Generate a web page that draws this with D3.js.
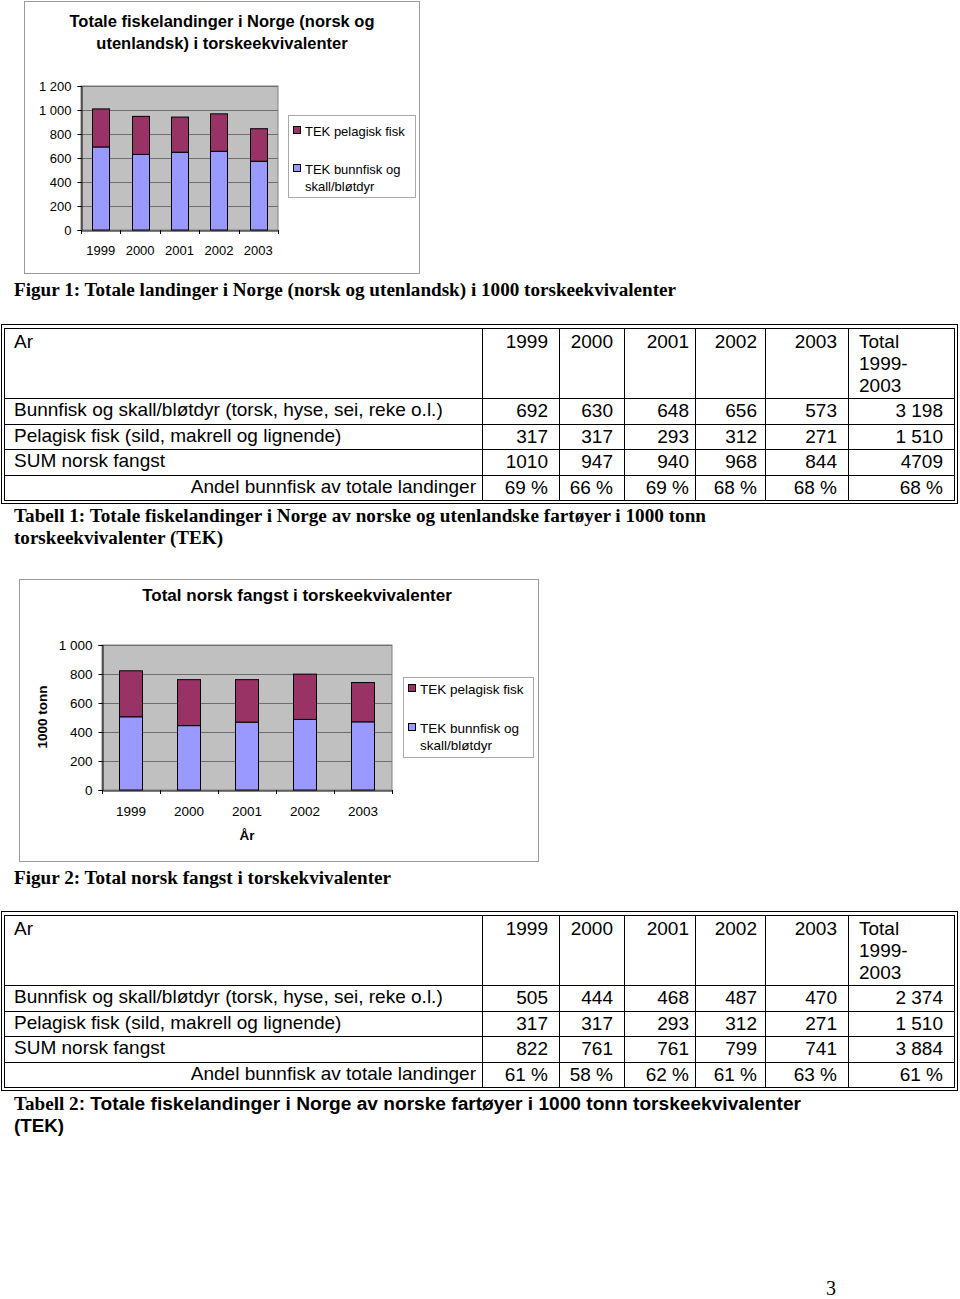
<!DOCTYPE html>
<html><head><meta charset="utf-8">
<script src="https://cdn.jsdelivr.net/npm/d3@7"></script>
<style>body{margin:0;background:#fff}svg{display:block}</style>
</head><body>
<svg id="page" width="960" height="1299"></svg>
<script>
// ---------- DATA ----------
const years = ["1999","2000","2001","2002","2003"];
const bunnfiskTotal = [692,630,648,656,573];
const pelagiskTotal = [317,317,293,312,271];
const bunnfiskNorsk = [505,444,468,487,470];
const pelagiskNorsk = [317,317,293,312,271];
const yTicks1 = [0,200,400,600,800,1000,1200];
const yTicks2 = [0,200,400,600,800,1000];
const seriesNames = ["TEK pelagisk fisk","TEK bunnfisk og skall/bløtdyr"];
const rowLabels = ["Bunnfisk og skall/bløtdyr (torsk, hyse, sei, reke o.l.)","Pelagisk fisk (sild, makrell og lignende)","SUM norsk fangst","Andel bunnfisk av totale landinger"];
const table1Rows = [
  ["692","630","648","656","573","3 198"],
  ["317","317","293","312","271","1 510"],
  ["1010","947","940","968","844","4709"],
  ["69 %","66 %","69 %","68 %","68 %","68 %"]
];
const table2Rows = [
  ["505","444","468","487","470","2 374"],
  ["317","317","293","312","271","1 510"],
  ["822","761","761","799","741","3 884"],
  ["61 %","58 %","62 %","61 %","63 %","61 %"]
];
const colors = {pel:"#993366", bunn:"#9999ff", plot:"#c0c0c0"};
const SANS = "'Liberation Sans', Arial, sans-serif";
const SERIF = "'Liberation Serif', 'Times New Roman', serif";
const fmt = d => d >= 1000 ? d3.format(",")(d).replace(",", " ") : String(d);

const svg = d3.select("#page");

// ---------- CHART ----------
function chart(cfg){
  const g = svg.append("g");
  g.append("rect").attr("x",cfg.box[0]+0.5).attr("y",cfg.box[1]+0.5)
    .attr("width",cfg.box[2]-cfg.box[0]).attr("height",cfg.box[3]-cfg.box[1])
    .attr("fill","#fff").attr("stroke","#9a9a9a");
  cfg.title.forEach((t,i)=>{
    g.append("text").attr("x",cfg.titleX).attr("y",cfg.titleY+i*22)
      .attr("text-anchor","middle").attr("font-family",SANS).attr("font-weight","bold")
      .attr("font-size",cfg.titleSize).text(t);
  });
  const [L,R,T,B] = cfg.plot;
  const fs = cfg.fs;
  const x = d3.scaleBand().domain(years).range([L,R]).paddingInner(cfg.pad).paddingOuter(cfg.pad/2);
  const y = d3.scaleLinear().domain([0,cfg.max]).range([B,T]);
  g.append("rect").attr("x",L).attr("y",T).attr("width",R-L).attr("height",B-T)
    .attr("fill",colors.plot).attr("stroke","#808080");
  g.append("g").selectAll("line").data(cfg.ticks.filter(d=>d>0)).join("line")
    .attr("x1",L).attr("x2",R).attr("y1",d=>Math.round(y(d))+0.5).attr("y2",d=>Math.round(y(d))+0.5)
    .attr("stroke","#6e6e6e");
  const data = years.map((yr,i)=>({yr, b:cfg.bunn[i], p:cfg.pel[i]}));
  g.append("g").selectAll("rect").data(data).join("rect")
    .attr("x",d=>Math.round(x(d.yr))+0.5).attr("width",Math.round(x.bandwidth()))
    .attr("y",d=>y(d.b)).attr("height",d=>y(0)-y(d.b))
    .attr("fill",colors.bunn).attr("stroke","#000");
  g.append("g").selectAll("rect").data(data).join("rect")
    .attr("x",d=>Math.round(x(d.yr))+0.5).attr("width",Math.round(x.bandwidth()))
    .attr("y",d=>y(d.b+d.p)).attr("height",d=>y(d.b)-y(d.b+d.p))
    .attr("fill",colors.pel).attr("stroke","#000");
  // y axis
  const ya = g.append("g").attr("transform",`translate(${L+0.5},0)`)
    .call(d3.axisLeft(y).tickValues(cfg.ticks).tickSize(4).tickPadding(cfg.tickPad).tickFormat(fmt));
  ya.select(".domain").attr("stroke","#000");
  ya.selectAll("text").attr("font-family",SANS).attr("font-size",fs).attr("fill","#000");
  // x axis
  const xa = g.append("g").attr("transform",`translate(0,${B+0.5})`)
    .call(d3.axisBottom(x).tickSize(0).tickPadding(cfg.xPad));
  xa.select(".domain").attr("stroke","#000");
  xa.selectAll("text").attr("font-family",SANS).attr("font-size",fs).attr("fill","#000");
  const step = x.step();
  g.append("g").selectAll("line").data(d3.range(years.length+1)).join("line")
    .attr("x1",i=>Math.round(L+i*step)+0.5).attr("x2",i=>Math.round(L+i*step)+0.5)
    .attr("y1",B).attr("y2",B+4).attr("stroke","#000");
  // legend
  const lg = cfg.legend;
  g.append("rect").attr("x",lg.box[0]+0.5).attr("y",lg.box[1]+0.5)
    .attr("width",lg.box[2]-lg.box[0]).attr("height",lg.box[3]-lg.box[1])
    .attr("fill","#fff").attr("stroke","#a8a8a8");
  const items = [{c:colors.pel, lines:[seriesNames[0]], y:lg.y[0]},
                 {c:colors.bunn, lines:["TEK bunnfisk og","skall/bløtdyr"], y:lg.y[1]}];
  items.forEach(it=>{
    g.append("rect").attr("x",lg.box[0]+5.5).attr("y",it.y-4.5).attr("width",7).attr("height",7)
      .attr("fill",it.c).attr("stroke","#000");
    it.lines.forEach((t,j)=>{
      g.append("text").attr("x",lg.box[0]+17).attr("y",it.y+j*17).attr("dy","0.35em")
        .attr("font-family",SANS).attr("font-size",fs).text(t);
    });
  });
  return g;
}

chart({box:[24,1,419,273], title:["Totale fiskelandinger i Norge (norsk og","utenlandsk) i  torskeekvivalenter"],
  titleX:222, titleY:27, titleSize:16.5, plot:[81,278,86,230], max:1200, ticks:yTicks1, fs:13,
  bunn:bunnfiskTotal, pel:pelagiskTotal, pad:0.57, tickPad:6, xPad:15,
  legend:{box:[288,115,415,197], y:[131,169]}});

const c2 = chart({box:[19,579,538,861], title:["Total norsk fangst i torskeekvivalenter"],
  titleX:297, titleY:601, titleSize:17, plot:[102,392,645,790], max:1000, ticks:yTicks2, fs:13.5,
  bunn:bunnfiskNorsk, pel:pelagiskNorsk, pad:0.6, tickPad:6, xPad:16,
  legend:{box:[403,677,533,757], y:[689,728]}});
c2.append("text").attr("transform","translate(47,717) rotate(-90)").attr("text-anchor","middle")
  .attr("font-family",SANS).attr("font-weight","bold").attr("font-size",13.5).text("1000 tonn");
c2.append("text").attr("x",247).attr("y",840).attr("text-anchor","middle")
  .attr("font-family",SANS).attr("font-weight","bold").attr("font-size",13.5).text("År");

// ---------- TABLES ----------
const colEdges = [4,482,559,624,695,765,848,954];
const numRight = [548,613,689,757,837,943];
function table(top, rows){
  const g = svg.append("g");
  const rowY = [top, top+70, top+95.5, top+121, top+146.5, top+172];
  // double outer border
  g.append("rect").attr("x",1.5).attr("y",top-3.5).attr("width",956).attr("height",rowY[5]-top+7)
    .attr("fill","none").attr("stroke","#000");
  g.append("rect").attr("x",colEdges[0]+0.5).attr("y",top+0.5).attr("width",colEdges[7]-colEdges[0])
    .attr("height",rowY[5]-top).attr("fill","none").attr("stroke","#000");
  g.selectAll(".h").data(rowY.slice(1,5)).join("line")
    .attr("x1",colEdges[0]).attr("x2",colEdges[7]).attr("y1",d=>Math.round(d)+0.5).attr("y2",d=>Math.round(d)+0.5)
    .attr("stroke","#000");
  g.selectAll(".v").data(colEdges.slice(1,7)).join("line")
    .attr("x1",d=>d+0.5).attr("x2",d=>d+0.5).attr("y1",top).attr("y2",rowY[5]).attr("stroke","#000");
  const txt = (x,y,t,anchor)=>g.append("text").attr("x",x).attr("y",y).attr("text-anchor",anchor||"start")
    .attr("font-family",SANS).attr("font-size",19).text(t);
  txt(14, top+20, "Ar");
  years.forEach((yr,i)=>txt(numRight[i], top+20, yr, "end"));
  ["Total","1999-","2003"].forEach((t,i)=>txt(859, top+20+i*22, t));
  rowLabels.forEach((lab,r)=>{
    const yb = (rowY[r+1]+rowY[r+2])/2 + 5.5;
    if (r===3) txt(476, yb, lab, "end"); else txt(14, yb, lab);
    rows[r].forEach((v,i)=>txt(numRight[i], yb+1, v, "end"));
  });
}
table(328, table1Rows);
table(915, table2Rows);

// ---------- CAPTIONS ----------
function cap(x,y,parts,len){
  const t = svg.append("text").attr("x",x).attr("y",y).attr("font-size",18).attr("font-weight","bold");
  parts.forEach(p=>t.append("tspan").attr("font-family",p[1]).text(p[0]));
  if(len) t.attr("textLength",len).attr("lengthAdjust","spacingAndGlyphs");
}
cap(14,296,[["Figur 1: Totale landinger i Norge (norsk og utenlandsk) i 1000 torskeekvivalenter",SERIF]],662);
cap(14,522,[["Tabell 1: Totale fiskelandinger i Norge av norske og utenlandske fartøyer i 1000 tonn",SERIF]],692);
cap(14,544,[["torskeekvivalenter (TEK)",SERIF]],209);
cap(14,884,[["Figur 2: Total norsk fangst i torskekvivalenter",SERIF]],377);
cap(14,1110,[["Tabell 2",SERIF],[": Totale fiskelandinger i Norge av norske fartøyer i 1000 tonn torskeekvivalenter",SANS]],787);
cap(14,1132,[["(TEK)",SANS]],50);
svg.append("text").attr("x",831).attr("y",1295).attr("text-anchor","middle")
  .attr("font-family",SERIF).attr("font-size",20).text("3");
</script>
</body></html>
